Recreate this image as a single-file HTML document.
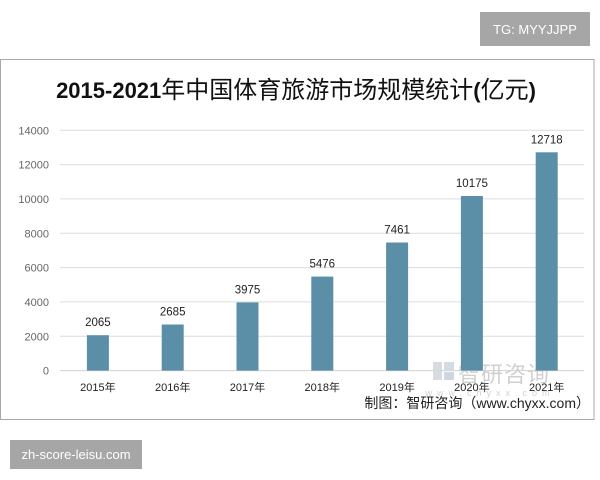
<!DOCTYPE html>
<html>
<head>
<meta charset="utf-8">
<style>
html,body{margin:0;padding:0;background:#fff;}
svg{display:block;}
</style>
</head>
<body>
<svg width="600" height="480" viewBox="0 0 600 480" xmlns="http://www.w3.org/2000/svg">
<rect x="0" y="0" width="600" height="480" fill="#fff"/>
<!-- TG badge -->
<rect x="480" y="12" width="110" height="34" fill="#a6a6a6"/>
<text x="535" y="34" text-anchor="middle" font-family="Liberation Sans, sans-serif" font-size="13" fill="#fff">TG: MYYJJPP</text>
<!-- frame -->
<rect x="0.5" y="59.5" width="593.5" height="360" fill="#fff" stroke="#a8a8a8" stroke-width="1"/>
<!-- title -->
<text x="296" y="98" text-anchor="middle" font-family="Liberation Sans, 'Noto Sans CJK SC', sans-serif" font-size="24" fill="#111"><tspan font-weight="bold" font-size="22">2015-2021</tspan><tspan>年中国体育旅游市场规模统计</tspan><tspan font-weight="bold" font-size="22">(</tspan><tspan>亿元</tspan><tspan font-weight="bold" font-size="22">)</tspan></text>
<!-- gridlines -->
<g stroke="#dcdcdc" stroke-width="1">
<line x1="60" y1="130.3" x2="584" y2="130.3"/>
<line x1="60" y1="164.6" x2="584" y2="164.6"/>
<line x1="60" y1="198.9" x2="584" y2="198.9"/>
<line x1="60" y1="233.3" x2="584" y2="233.3"/>
<line x1="60" y1="267.6" x2="584" y2="267.6"/>
<line x1="60" y1="301.9" x2="584" y2="301.9"/>
<line x1="60" y1="336.3" x2="584" y2="336.3"/>
<line x1="60" y1="370.6" x2="584" y2="370.6" stroke="#d0d0d0"/>
</g>
<!-- y labels -->
<g font-family="Liberation Sans, sans-serif" font-size="11" fill="#666" text-anchor="end">
<text x="49" y="134.3">14000</text>
<text x="49" y="168.6">12000</text>
<text x="49" y="202.9">10000</text>
<text x="49" y="237.3">8000</text>
<text x="49" y="271.6">6000</text>
<text x="49" y="305.9">4000</text>
<text x="49" y="340.3">2000</text>
<text x="49" y="374.6">0</text>
</g>
<!-- watermark -->
<g opacity="0.9">
<rect x="433" y="362" width="9" height="18" fill="#d4d8dc"/>
<rect x="444" y="362" width="10" height="8" fill="#cfd8e0"/>
<rect x="444" y="372" width="10" height="8" fill="#c9d3dc"/>
<text x="504" y="382" text-anchor="middle" font-family="'Noto Sans CJK SC', sans-serif" font-size="22" fill="#cccccc" letter-spacing="1">智研咨询</text>
<text x="490" y="396" text-anchor="middle" font-family="Liberation Sans, sans-serif" font-size="9" fill="#cccccc" letter-spacing="5">www.chyxx.com</text>
</g>
<!-- bars -->
<g fill="#5b8fa8">
<rect x="86.9" y="335.2" width="22" height="35.4"/>
<rect x="161.7" y="324.5" width="22" height="46.1"/>
<rect x="236.5" y="302.4" width="22" height="68.2"/>
<rect x="311.3" y="276.6" width="22" height="94.0"/>
<rect x="386.1" y="242.5" width="22" height="128.1"/>
<rect x="460.9" y="196.0" width="22" height="174.6"/>
<rect x="535.7" y="152.3" width="22" height="218.3"/>
</g>
<!-- data labels -->
<g font-family="Liberation Sans, sans-serif" font-size="11.5" fill="#222" text-anchor="middle">
<text x="97.9" y="326.2">2065</text>
<text x="172.7" y="315.5">2685</text>
<text x="247.5" y="293.4">3975</text>
<text x="322.3" y="267.6">5476</text>
<text x="397.1" y="233.5">7461</text>
<text x="471.9" y="187.0">10175</text>
<text x="546.7" y="143.3">12718</text>
</g>
<!-- x labels -->
<g font-family="Liberation Sans, 'Noto Sans CJK SC', sans-serif" font-size="11" fill="#222" text-anchor="middle">
<text x="97.9" y="391">2015年</text>
<text x="172.7" y="391">2016年</text>
<text x="247.5" y="391">2017年</text>
<text x="322.3" y="391">2018年</text>
<text x="397.1" y="391">2019年</text>
<text x="471.9" y="391">2020年</text>
<text x="546.7" y="391">2021年</text>
</g>
<!-- source -->
<text x="590" y="408" text-anchor="end" font-family="Liberation Sans, 'Noto Sans CJK SC', sans-serif" font-size="14" fill="#222">制图：智研咨询（www.chyxx.com）</text>
<!-- bottom badge -->
<rect x="10" y="440" width="132" height="29" fill="#a6a6a6"/>
<text x="76" y="459" text-anchor="middle" font-family="Liberation Sans, sans-serif" font-size="13" fill="#fff">zh-score-leisu.com</text>
</svg>
</body>
</html>
